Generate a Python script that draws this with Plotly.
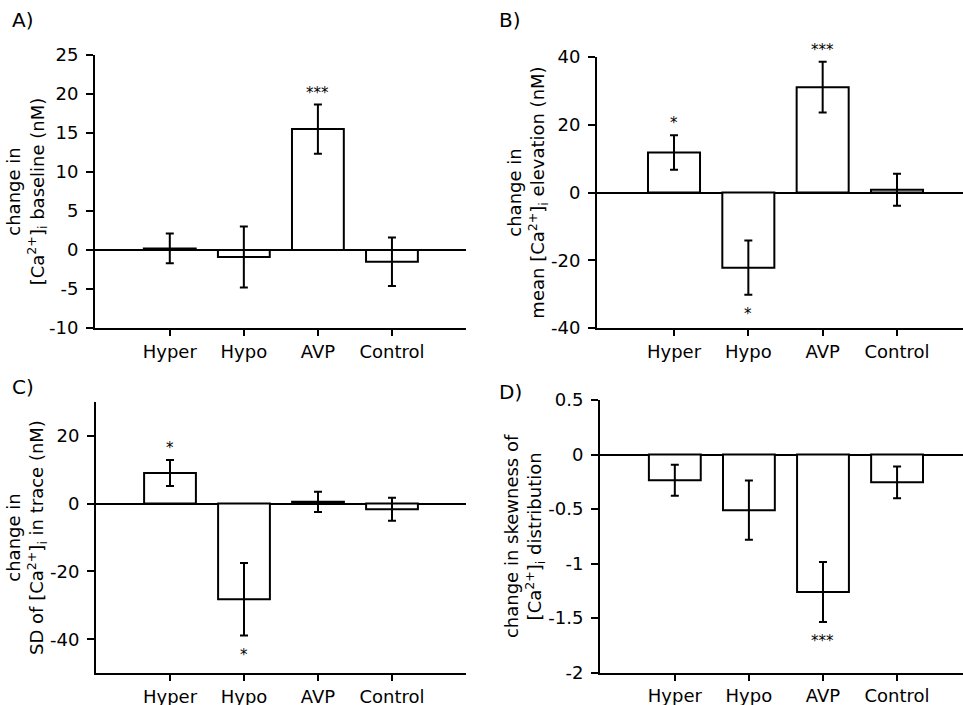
import plotly.graph_objects as go

categories = ["Hyper", "Hypo", "AVP", "Control"]

# Panel A: change in [Ca2+]i baseline (nM)
a_vals = [0.2, -0.9, 15.5, -1.5]
a_err = [1.9, 3.9, 3.15, 3.1]
a_stars = ["", "", "***", ""]
a_ticks = [-10, -5, 0, 5, 10, 15, 20, 25]
a_ticktext = ["-10", "-5", "0", "5", "10", "15", "20", "25"]

# Panel B: change in mean [Ca2+]i elevation (nM)
b_vals = [11.8, -22.2, 31.1, 0.8]
b_err = [5.1, 8.0, 7.5, 4.7]
b_stars = ["*", "*", "***", ""]
b_ticks = [-40, -20, 0, 20, 40]
b_ticktext = ["-40", "-20", "0", "20", "40"]

# Panel C: change in SD of [Ca2+]i in trace (nM)
c_vals = [9.0, -28.2, 0.5, -1.7]
c_err = [3.8, 10.7, 3.0, 3.4]
c_stars = ["*", "*", "", ""]
c_ticks = [-40, -20, 0, 20]
c_ticktext = ["-40", "-20", "0", "20"]

# Panel D: change in skewness of [Ca2+]i distribution
d_vals = [-0.235, -0.51, -1.26, -0.255]
d_err = [0.142, 0.272, 0.275, 0.145]
d_stars = ["", "", "***", ""]
d_ticks = [-2, -1.5, -1, -0.5, 0, 0.5]
d_ticktext = ["-2", "-1.5", "-1", "-0.5", "0", "0.5"]

panels = [
    dict(vals=a_vals, err=a_err, stars=a_stars,
         title="change in<br>[Ca<sup>2+</sup>]<sub>i</sub> baseline (nM)",
         yrange=[-10, 25], ticks=a_ticks, ticktext=a_ticktext,
         xdom=[95/963, 466/963], ydom=[1-328/705, 1-55/705], xrange=[-1.01, 4.0],
         label="A)", lx=10, ly=20),
    dict(vals=b_vals, err=b_err, stars=b_stars,
         title="change in<br>mean [Ca<sup>2+</sup>]<sub>i</sub> elevation (nM)",
         yrange=[-40, 40], ticks=b_ticks, ticktext=b_ticktext,
         xdom=[597/963, 1.0], ydom=[1-328/705, 1-57/705], xrange=[-1.036, 3.888],
         label="B)", lx=497, ly=20),
    dict(vals=c_vals, err=c_err, stars=c_stars,
         title="change in<br>SD of [Ca<sup>2+</sup>]<sub>i</sub> in trace (nM)",
         yrange=[-50, 30], ticks=c_ticks, ticktext=c_ticktext,
         xdom=[96/963, 466/963], ydom=[1-673.3/705, 1-401.7/705], xrange=[-1.0, 4.0],
         label="C)", lx=10, ly=387),
    dict(vals=d_vals, err=d_err, stars=d_stars,
         title="change in skewness of<br>[Ca<sup>2+</sup>]<sub>i</sub> distribution",
         yrange=[-2, 0.5], ticks=d_ticks, ticktext=d_ticktext,
         xdom=[600/963, 1.0], ydom=[1-672.7/705, 1-400/705], xrange=[-1.01, 3.89],
         label="D)", lx=497, ly=392),
]

FONT = "DejaVu Sans, Liberation Sans, Arial, sans-serif"
FS = 18
fig = go.Figure()
annotations = []
layout = {}
for i, p in enumerate(panels):
    n = "" if i == 0 else str(i + 1)
    xa, ya = "x" + n, "y" + n
    fig.add_trace(go.Bar(
        x=list(range(len(categories))), y=p["vals"], width=0.7,
        marker=dict(color="white", line=dict(color="black", width=2)),
        error_y=dict(type="data", array=p["err"], color="black", thickness=2, width=4),
        xaxis=xa, yaxis=ya, showlegend=False, hoverinfo="skip", cliponaxis=False))
    for k, s in enumerate(p["stars"]):
        if not s:
            continue
        v, e = p["vals"][k], p["err"][k]
        up = v >= 0
        annotations.append(dict(
            x=k, y=v + e if up else v - e, xref=xa, yref=ya, text=s, showarrow=False,
            yanchor="middle", yshift=12 if up else -19,
            font=dict(size=15, color="black", family=FONT)))
    annotations.append(dict(x=p["lx"]/963, y=1-p["ly"]/705, xref="paper", yref="paper",
                            text=p["label"], showarrow=False, xanchor="left", yanchor="middle",
                            font=dict(size=20, color="black", family=FONT)))
    layout["xaxis" + n] = dict(
        domain=p["xdom"], anchor=ya, range=p["xrange"], automargin=False,
        tickmode="array", tickvals=list(range(len(categories))), ticktext=categories,
        showline=True, linecolor="black", linewidth=2, ticks="outside", ticklen=6,
        tickwidth=2, tickcolor="black", showgrid=False, zeroline=False,
        ticklabelstandoff=0, tickfont=dict(size=FS, color="black", family=FONT))
    layout["yaxis" + n] = dict(
        domain=p["ydom"], anchor=xa, range=p["yrange"], automargin=False,
        tickmode="array", tickvals=p["ticks"], ticktext=p["ticktext"],
        showline=True, linecolor="black", linewidth=2, ticks="outside", ticklen=7,
        tickwidth=2, tickcolor="black", showgrid=False,
        zeroline=True, zerolinecolor="black", zerolinewidth=2,
        ticklabelstandoff=4, tickfont=dict(size=FS, color="black", family=FONT),
        title=dict(text=p["title"], font=dict(size=FS, color="black", family=FONT), standoff=0))

fig.update_layout(width=963, height=705, margin=dict(l=0, r=0, t=0, b=0),
                  plot_bgcolor="white", paper_bgcolor="white", template="none",
                  annotations=annotations, **layout)
fig.write_html("out.html", config={"displayModeBar": False},
               post_script="document.body.style.margin='0px';")
